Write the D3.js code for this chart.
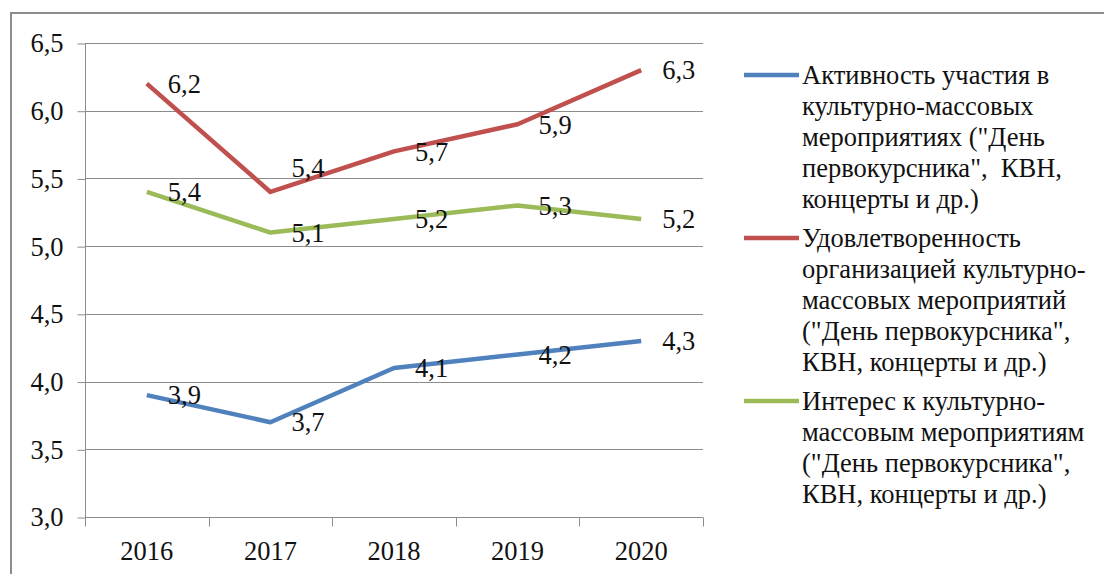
<!DOCTYPE html>
<html>
<head>
<meta charset="utf-8">
<script src="https://cdn.jsdelivr.net/npm/d3@7"></script>
</head>
<body style="margin:0">
<script>
// chart data
var years = ["2016", "2017", "2018", "2019", "2020"];
var activity = [3.9, 3.7, 4.1, 4.2, 4.3];
var satisfaction = [6.2, 5.4, 5.7, 5.9, 6.3];
var interest = [5.4, 5.1, 5.2, 5.3, 5.2];
var yTicks = [3.0, 3.5, 4.0, 4.5, 5.0, 5.5, 6.0, 6.5];

var activityLabel = ["Активность участия в", "культурно-массовых", "мероприятиях (\"День", "первокурсника\",  КВН,", "концерты и др.)"];
var satisfactionLabel = ["Удовлетворенность", "организацией культурно-", "массовых мероприятий", "(\"День первокурсника\",", "КВН, концерты и др.)"];
var interestLabel = ["Интерес к культурно-", "массовым мероприятиям", "(\"День первокурсника\",", "КВН, концерты и др.)"];

var series = [
    { name: activityLabel, values: activity, color: "#4f81bd" },
    { name: satisfactionLabel, values: satisfaction, color: "#c0504d" },
    { name: interestLabel, values: interest, color: "#9bbb59" }
];

// svg size
var svgWidth = 1104;
var svgHeight = 574;

var plot = { left: 85, right: 703, top: 43, bottom: 517 };
var fontSize = 26.5;
var fontName = "Liberation Serif";

var svg = d3.select("body")
    .append("svg")
    .attr("width", svgWidth)
    .attr("height", svgHeight);

// outer frame (right and bottom fall outside the picture)
svg.append("rect")
    .attr("x", 11)
    .attr("y", 13)
    .attr("width", svgWidth + 20)
    .attr("height", svgHeight + 20)
    .attr("fill", "none")
    .attr("stroke", "#8c8c8c")
    .attr("stroke-width", 2);

// scales
var xBand = d3.scaleBand()
    .domain(years)
    .range([plot.left, plot.right]);

var xScale = d3.scalePoint()
    .domain(years)
    .range([plot.left, plot.right])
    .padding(0.5);

var yScale = d3.scaleLinear()
    .domain([3.0, 6.5])
    .range([plot.bottom, plot.top]);

var ruFormat = d3.formatLocale({ decimal: ",", thousands: " ", grouping: [3], currency: ["", ""] }).format(".1f");

// gridlines
svg.append("g")
    .selectAll("line")
    .data(yTicks)
    .enter()
    .append("line")
    .attr("x1", plot.left)
    .attr("x2", plot.right)
    .attr("y1", d => Math.round(yScale(d)) + 0.5)
    .attr("y2", d => Math.round(yScale(d)) + 0.5)
    .attr("stroke", "#8c8c8c")
    .attr("stroke-width", 1);

// y axis
var yAxis = d3.axisLeft(yScale)
    .tickValues(yTicks)
    .tickSize(8)
    .tickPadding(14)
    .tickFormat(ruFormat);

var yAxisG = svg.append("g")
    .attr("transform", `translate(${plot.left + 0.5}, 0.5)`)
    .call(yAxis);
yAxisG.attr("font-family", null).attr("font-size", null);
yAxisG.select(".domain").attr("stroke", "#8c8c8c").attr("d", `M0,${plot.top}V${plot.bottom}`);
yAxisG.selectAll(".tick line").attr("stroke", "#8c8c8c");
yAxisG.selectAll(".tick text")
    .attr("font-family", fontName)
    .attr("font-size", fontSize)
    .attr("fill", "#111");

// x axis with ticks between categories
var xAxisG = svg.append("g")
    .attr("transform", `translate(0, ${plot.bottom + 0.5})`);

xAxisG.selectAll("line")
    .data(years.concat(["end"]))
    .enter()
    .append("line")
    .attr("x1", (d, i) => i < years.length ? Math.round(xBand(d)) + 0.5 : plot.right + 0.5)
    .attr("x2", (d, i) => i < years.length ? Math.round(xBand(d)) + 0.5 : plot.right + 0.5)
    .attr("y1", 0)
    .attr("y2", 9)
    .attr("stroke", "#8c8c8c");

xAxisG.selectAll("text")
    .data(years)
    .enter()
    .append("text")
    .attr("x", d => xScale(d))
    .attr("y", 33)
    .attr("dy", "0.35em")
    .attr("text-anchor", "middle")
    .attr("font-family", fontName)
    .attr("font-size", fontSize)
    .attr("fill", "#111")
    .text(d => d);

// lines
var line = d3.line()
    .x((d, i) => xScale(years[i]))
    .y(d => yScale(d));

svg.append("g")
    .selectAll("path")
    .data(series)
    .enter()
    .append("path")
    .attr("d", d => line(d.values))
    .attr("fill", "none")
    .attr("stroke", d => d.color)
    .attr("stroke-width", 4.5)
    .attr("stroke-linejoin", "round");

// data labels, to the right of each point
series.forEach(function(s, si) {
    svg.append("g")
        .selectAll("text")
        .data(s.values)
        .enter()
        .append("text")
        .attr("x", (d, i) => xScale(years[i]) + 21)
        // red 2017 label sits higher, clear of the line
        .attr("y", (d, i) => yScale(d) + (si === 1 && i === 1 ? -24 : 0))
        .attr("dy", "0.35em")
        .attr("font-family", fontName)
        .attr("font-size", fontSize)
        .attr("fill", "#111")
        .text(d => ruFormat(d));
});

// legend
var lineHeight = 31;
var legendY = 75;
series.forEach(function(s) {
    svg.append("line")
        .attr("x1", 744)
        .attr("x2", 799)
        .attr("y1", legendY)
        .attr("y2", legendY)
        .attr("stroke", s.color)
        .attr("stroke-width", 4.5);

    s.name.forEach(function(txt, k) {
        svg.append("text")
            .attr("x", 802)
            .attr("y", legendY + k * lineHeight)
            .attr("dy", "0.35em")
            .attr("font-family", fontName)
            .attr("font-size", fontSize)
            .attr("fill", "#111")
            .style("white-space", "pre")
            .text(txt);
    });
    legendY += s.name.length * lineHeight + 8;
});
</script>
</body>
</html>
